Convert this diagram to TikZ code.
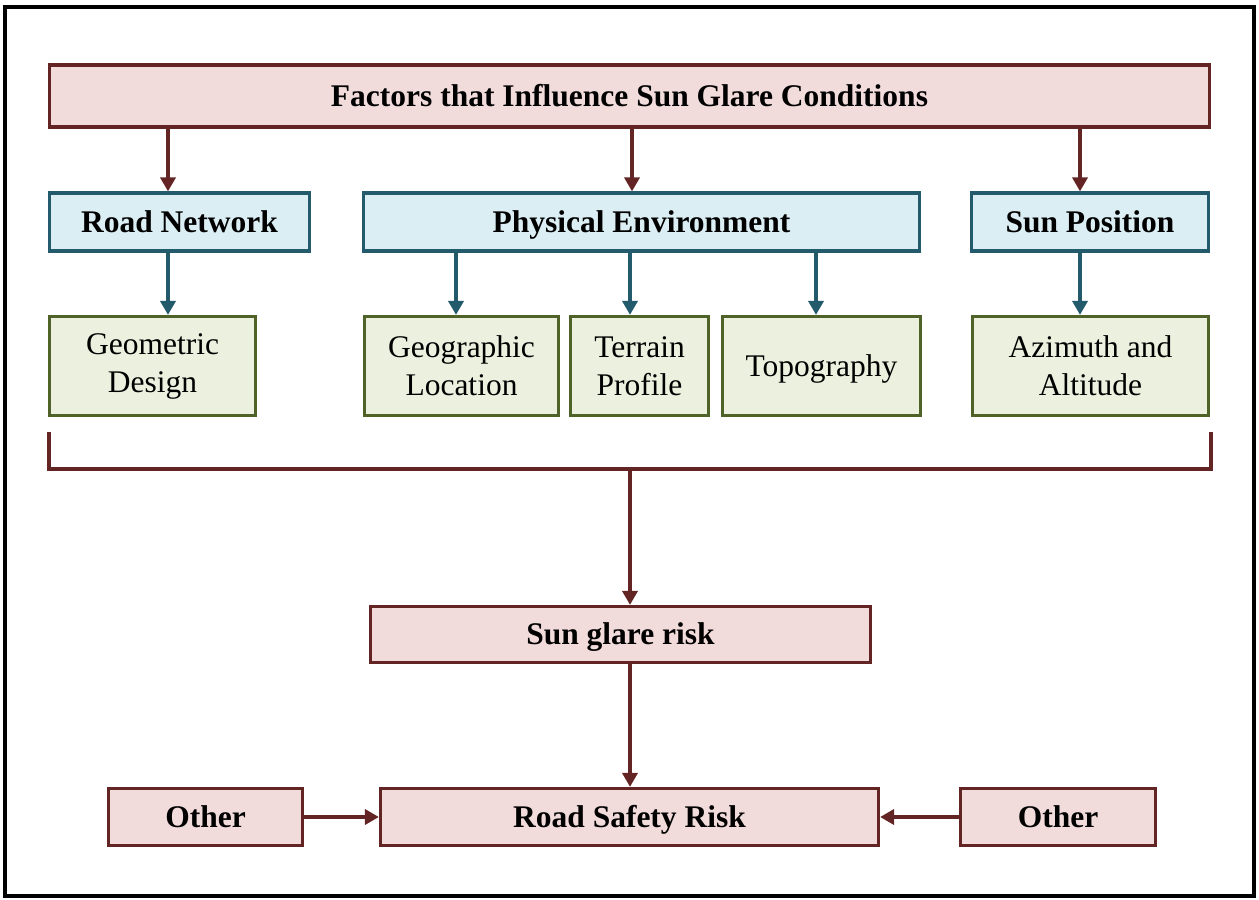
\documentclass[tikz,border=0pt]{standalone}
\usepackage{fontspec}
\setmainfont{Liberation Serif}
\usetikzlibrary{arrows.meta}
\definecolor{redline}{HTML}{632523}
\definecolor{redfill}{HTML}{F2DCDB}
\definecolor{blueline}{HTML}{235B6C}
\definecolor{bluefill}{HTML}{DBEEF4}
\definecolor{greenline}{HTML}{4F6228}
\definecolor{greenfill}{HTML}{EBF1DE}
\tikzset{
  box/.style={rectangle, line width=3.2pt, inner sep=0pt, align=center,
    font=\fontsize{31.5}{38}\selectfont},
  oneline/.style={text height=24pt, text depth=4pt},
  redbox/.style={box, oneline, draw=redline, fill=redfill, font=\fontsize{31.5}{38}\selectfont\bfseries},
  bluebox/.style={box, oneline, draw=blueline, fill=bluefill, font=\fontsize{31.5}{38}\selectfont\bfseries},
  greenbox/.style={box, draw=greenline, fill=greenfill},
  redarr/.style={draw=redline, line width=3.5pt, -{Triangle[length=14pt,width=15pt]}},
  bluearr/.style={draw=blueline, line width=3.5pt, -{Triangle[length=14pt,width=15pt]}},
  redln/.style={draw=redline, line width=3.5pt},
}
\begin{document}
\begin{tikzpicture}[x=1pt,y=-1pt]
\useasboundingbox (0,0) rectangle (1259,900);
\draw[line width=4pt] (5,7) rectangle (1254,896);

\node[redbox, minimum width=1160pt, minimum height=62pt] (title) at (629.5,96) {Factors that Influence Sun Glare Conditions};

\node[bluebox, minimum width=260pt, minimum height=58pt] (rn) at (179.5,222) {Road Network};
\node[bluebox, minimum width=556pt, minimum height=58pt] (pe) at (641.5,222) {Physical Environment};
\node[bluebox, minimum width=237pt, minimum height=58pt] (sp) at (1090,222) {Sun Position};

\node[greenbox, minimum width=206pt, minimum height=99pt] (gd) at (152.5,366) {Geometric\\Design};
\node[greenbox, minimum width=194pt, minimum height=99pt] (gl) at (461.5,366) {Geographic\\Location};
\node[greenbox, minimum width=138pt, minimum height=99pt] (tp) at (639.5,366) {Terrain\\Profile};
\node[greenbox, oneline, minimum width=198pt, minimum height=99pt] (topo) at (821.5,366) {Topography};
\node[greenbox, minimum width=236pt, minimum height=99pt] (az) at (1090.5,366) {Azimuth and\\Altitude};

\node[redbox, minimum width=500pt, minimum height=56pt] (sgr) at (620.5,634.5) {Sun glare risk};
\node[redbox, minimum width=498pt, minimum height=57pt] (rsr) at (629.5,817) {Road Safety Risk};
\node[redbox, minimum width=194pt, minimum height=57pt] (o1) at (205.5,817) {Other};
\node[redbox, minimum width=195pt, minimum height=57pt] (o2) at (1058,817) {Other};

% top level arrows
\draw[redarr] (title.south -| 168,0) -- (rn.north -| 168,0);
\draw[redarr] (title.south -| 632,0) -- (pe.north -| 632,0);
\draw[redarr] (title.south -| 1080,0) -- (sp.north -| 1080,0);

% second level arrows
\draw[bluearr] (rn.south -| 168,0) -- (gd.north -| 168,0);
\draw[bluearr] (pe.south -| 456,0) -- (gl.north -| 456,0);
\draw[bluearr] (pe.south -| 630,0) -- (tp.north -| 630,0);
\draw[bluearr] (pe.south -| 816,0) -- (topo.north -| 816,0);
\draw[bluearr] (sp.south -| 1080,0) -- (az.north -| 1080,0);

% bracket
\coordinate (bl) at (49,432);
\coordinate (br) at (1211,432);
\coordinate (bm) at (630,469);
\draw[redln, line join=miter] (bl) -- (bl |- bm) -- (br |- bm) -- (br);
\draw[redarr] (bm) -- (sgr.north -| bm);

% bottom
\draw[redarr] (sgr.south -| 630,0) -- (rsr.north -| 630,0);
\draw[redarr] (o1.east) -- (rsr.west);
\draw[redarr] (o2.west) -- (rsr.east);
\end{tikzpicture}
\end{document}
